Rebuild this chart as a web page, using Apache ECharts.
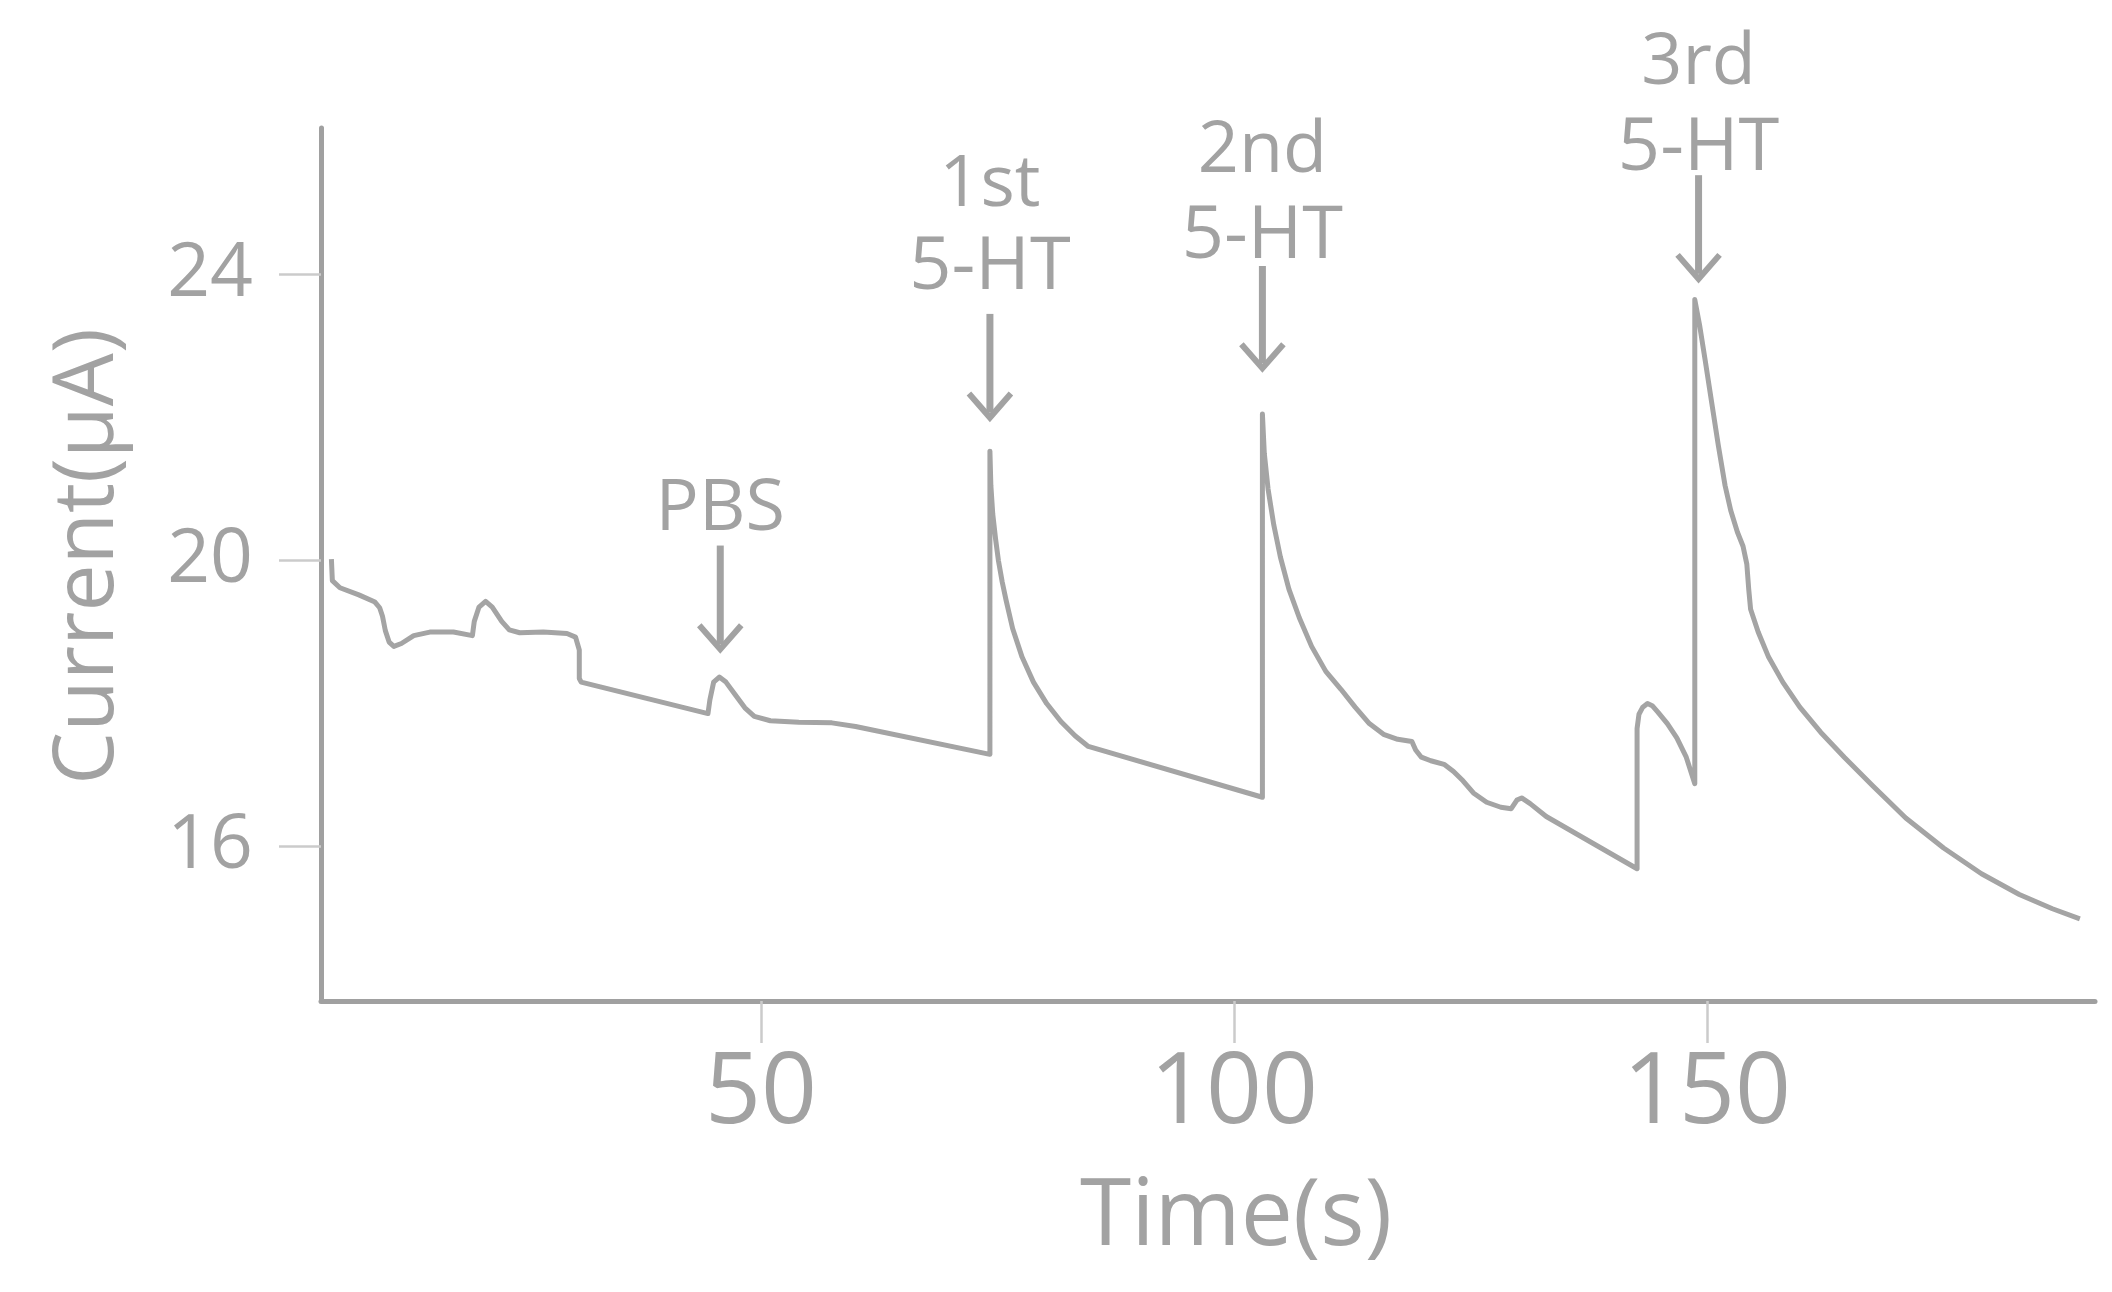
<!DOCTYPE html>
<html><head><meta charset="utf-8">
<script src="https://cdn.jsdelivr.net/npm/echarts@6/dist/echarts.min.js"></script>
<style>html,body{margin:0;padding:0;background:#fff}#c{width:2112px;height:1292px}</style>
</head><body><div id="c"></div>
<script>
// Amperometric trace: time (s) and current (µA)
const timeValues = [
  4.6, 4.7, 5.5, 7.5, 9.2, 9.7, 10.0, 10.3, 10.7, 11.2, 12.0, 13.3, 15.0, 17.5, 19.5, 19.7, 20.2, 20.9, 21.6, 22.6, 23.4,
  24.5, 27.0, 29.5, 30.4, 30.8, 30.8, 31.0, 44.4, 44.6, 45.0, 45.6, 46.3, 47.3, 48.3, 49.3, 51.0, 54.0, 57.5, 60.0, 74.2,
  74.2, 74.3, 74.5, 74.8, 75.1, 75.5, 75.9, 76.6, 77.6, 78.8, 80.2, 81.7, 83.2, 84.6, 103.0,
  103.0, 103.2, 103.6, 104.2, 104.9, 105.8, 106.9, 108.2, 109.7, 111.3, 112.8, 114.3, 115.8, 117.3, 118.8, 119.2, 119.8,
  120.8, 122.2, 123.2, 124.2, 125.3, 126.7, 128.2, 129.3, 129.9, 130.4, 131.3, 133.0, 142.6,
  142.6, 142.8, 143.2, 143.7, 144.2, 144.8, 145.8, 146.8, 147.8, 148.7,
  148.7, 149.2, 149.8, 150.5, 151.2, 151.9, 152.5, 153.2, 153.8, 154.2, 154.4, 154.6, 155.4, 156.5, 158.0, 159.8,
  162.0, 164.5, 167.5, 171.0, 175.0, 179.0, 183.0, 186.5, 189.4
];
const currentValues = [
  20.02, 19.72, 19.62, 19.52, 19.42, 19.34, 19.22, 19.02, 18.86, 18.80, 18.84, 18.95, 19.00, 19.00, 18.95, 19.15, 19.35, 19.43, 19.35, 19.15, 19.03,
  18.99, 19.00, 18.98, 18.93, 18.75, 18.35, 18.30, 17.86, 18.05, 18.30, 18.37, 18.30, 18.12, 17.94, 17.82, 17.76, 17.74, 17.73, 17.68, 17.29,
  21.53, 21.05, 20.65, 20.30, 20.00, 19.70, 19.45, 19.05, 18.65, 18.30, 18.00, 17.75, 17.55, 17.40, 16.69,
  22.05, 21.50, 21.00, 20.50, 20.05, 19.60, 19.20, 18.80, 18.45, 18.20, 17.95, 17.72, 17.57, 17.50, 17.47, 17.35, 17.25,
  17.20, 17.15, 17.05, 16.92, 16.75, 16.62, 16.55, 16.53, 16.65, 16.68, 16.60, 16.42, 15.69,
  17.65, 17.85, 17.95, 18.00, 17.97, 17.88, 17.72, 17.52, 17.25, 16.88,
  23.65, 23.30, 22.80, 22.20, 21.60, 21.05, 20.70, 20.40, 20.20, 19.95, 19.60, 19.32, 19.00, 18.65, 18.30, 17.95,
  17.60, 17.25, 16.85, 16.40, 15.98, 15.62, 15.33, 15.13, 14.99
];
const xTicks = [50, 100, 150];
const yTicks = [16, 20, 24];

// Annotations (data coordinates)
const annX = [45.7, 74.2, 103.0, 149.1];
const annTail = [20.21, 23.45, 24.12, 25.39];
const annTip = [18.76, 22.0, 22.69, 23.94];
const annLine1 = ['PBS', '1st', '2nd', '3rd'];
const annLine1Y = [20.72, 25.25, 25.72, 26.95];
const annLine2 = ['', '5-HT', '5-HT', '5-HT'];
const annLine2Y = [null, 24.09, 24.52, 25.76];

const gray = '#a2a2a2';
const font = 'Open Sans';

const chart = echarts.init(document.getElementById('c'), null, {renderer: 'canvas'});
const lineData = timeValues.map((t, i) => [t, currentValues[i]]);
const annData = annX.map((x, i) => [x, annTail[i]]);

chart.setOption({
  animation: false,
  backgroundColor: '#ffffff',
  grid: {left: 321, right: 17, top: 128, bottom: 291},
  xAxis: {
    type: 'value', min: 3.5, max: 191,
    name: 'Time(s)', nameLocation: 'middle', nameGap: 171,
    nameTextStyle: {fontFamily: font, fontSize: 93, color: gray, padding: [0, 0, 0, 56]},
    axisLine: {show: true, onZero: false, lineStyle: {color: '#a0a0a0', width: 5}},
    axisTick: {show: true, customValues: xTicks, length: 42, lineStyle: {color: '#cbcbcb', width: 2.5}},
    axisLabel: {customValues: xTicks, fontFamily: font, fontSize: 98, color: gray, margin: 45},
    splitLine: {show: false}
  },
  yAxis: {
    type: 'value', min: 13.84, max: 26.05,
    name: 'Current(µA)', nameLocation: 'middle', nameGap: 190,
    nameTextStyle: {fontFamily: font, fontSize: 84, color: gray, padding: [0, 0, 0, 16]},
    axisLine: {show: true, onZero: false, lineStyle: {color: '#a0a0a0', width: 5}},
    axisTick: {show: true, customValues: yTicks, length: 42, lineStyle: {color: '#cbcbcb', width: 2.5}},
    axisLabel: {customValues: yTicks, fontFamily: font, fontSize: 75, color: gray, margin: 68},
    splitLine: {show: false}
  },
  series: [
    {
      type: 'line', data: lineData, showSymbol: false, smooth: false,
      lineStyle: {color: '#a4a4a4', width: 5, join: 'round'}
    },
    {
      type: 'custom', clip: false, silent: true, data: annData,
      renderItem: function (params, api) {
        const i = params.dataIndex;
        const tail = api.coord([annX[i], annTail[i]]);
        const tip = api.coord([annX[i], annTip[i]]);
        const t1 = api.coord([annX[i], annLine1Y[i]]);
        const children = [
          {type: 'line', shape: {x1: tail[0], y1: tail[1], x2: tip[0], y2: tip[1] - 5},
           style: {stroke: gray, lineWidth: 7}},
          {type: 'polyline', shape: {points: [[tip[0] - 21, tip[1] - 24], [tip[0], tip[1]], [tip[0] + 21, tip[1] - 24]]},
           style: {stroke: gray, lineWidth: 6, fill: null, lineJoin: 'miter'}},
          {type: 'text', style: {text: annLine1[i], x: t1[0], y: t1[1], align: 'center', verticalAlign: 'middle',
            fontFamily: font, fontSize: 72, fill: gray}}
        ];
        if (annLine2[i]) {
          const t2 = api.coord([annX[i], annLine2Y[i]]);
          children.push({type: 'text', style: {text: annLine2[i], x: t2[0], y: t2[1], align: 'center', verticalAlign: 'middle',
            fontFamily: font, fontSize: 74, fill: gray}});
        }
        return {type: 'group', children: children};
      }
    }
  ]
});
</script>
</body></html>
